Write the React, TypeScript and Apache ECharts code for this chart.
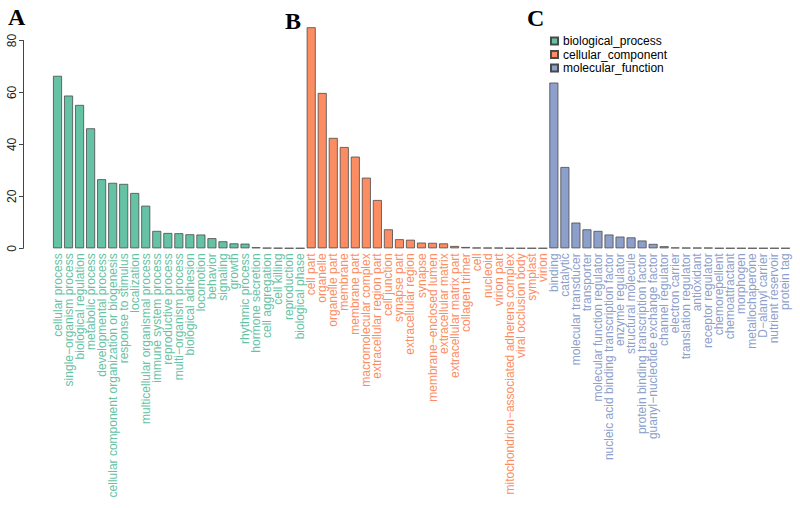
import React, { useEffect, useRef } from "react";
import * as echarts from "echarts";

const bpCategories = [
  "cellular process", "single\u2212organism process", "biological regulation", "metabolic process",
  "developmental process", "cellular component organization or biogenesis", "response to stimulus",
  "localization", "multicellular organismal process", "immune system process", "reproductive process",
  "multi\u2212organism process", "biological adhesion", "locomotion", "behavior", "signaling", "growth",
  "rhythmic process", "hormone secretion", "cell aggregation", "cell killing", "reproduction", "biological phase",
];
const bpValues = [66.4, 58.8, 55.2, 46.2, 26.6, 25.2, 24.8, 21.3, 16.4, 6.7, 5.9, 5.8, 5.4, 5.3, 3.9, 2.7, 1.9, 1.8, 0.4, 0.15, 0.1, 0.04, 0.04];

const ccCategories = [
  "cell part", "organelle", "organelle part", "membrane", "membrane part", "macromolecular complex",
  "extracellular region part", "cell junction", "synapse part", "extracellular region", "synapse",
  "membrane\u2212enclosed lumen", "extracellular matrix", "extracellular matrix part", "collagen trimer", "cell",
  "nucleoid", "virion part", "mitochondrion\u2212associated adherens complex", "viral occlusion body", "symplast", "virion",
];
const ccValues = [85.1, 59.8, 42.5, 39.0, 35.3, 27.2, 18.6, 7.3, 3.5, 3.3, 2.2, 2.1, 1.9, 0.9, 0.5, 0.25, 0.2, 0.2, 0.04, 0.04, 0.04, 0.04];

const mfCategories = [
  "binding", "catalytic", "molecular transducer", "transporter", "molecular function regulator",
  "nucleic acid binding transcription factor", "enzyme regulator", "structural molecule",
  "protein binding transcription factor", "guanyl\u2212nucleotide exchange factor", "channel regulator",
  "electron carrier", "translation regulator", "antioxidant", "receptor regulator", "chemorepellent",
  "chemoattractant", "morphogen", "metallochaperone", "D\u2212alanyl carrier", "nutrient reservoir", "protein tag",
];
const mfValues = [63.8, 31.3, 9.9, 7.3, 6.7, 5.3, 4.5, 4.2, 3.0, 1.7, 0.8, 0.3, 0.2, 0.2, 0.2, 0.04, 0.04, 0.04, 0.04, 0.04, 0.04, 0.04];

const yTicks = [0, 20, 40, 60, 80];

const COLORS = { bp: "#66C2A5", cc: "#FC8D62", mf: "#8DA0CB" };
const SANS = "Liberation Sans";
const SERIF = "Liberation Serif";

export default function App() {
  const ref = useRef<HTMLDivElement>(null);
  useEffect(() => {
    if (!ref.current) return;
    const chart = echarts.init(ref.current, null, { renderer: "svg" });
    const categories = [...bpCategories, ...ccCategories, ...mfCategories];
    const nBP = bpCategories.length;
    const nCC = ccCategories.length;
    const pad = (n: number) => new Array(n).fill(null);
    const bpData = [...bpValues, ...pad(nCC + mfCategories.length)];
    const ccData = [...pad(nBP), ...ccValues, ...pad(mfCategories.length)];
    const mfData = [...pad(nBP + nCC), ...mfValues];
    const labelColor = (_v: any, idx: number) =>
      idx < nBP ? COLORS.bp : idx < nBP + nCC ? COLORS.cc : COLORS.mf;
    const mkSeries = (name: string, data: any[], color: string) => ({
      name,
      type: "bar",
      data,
      barWidth: 9,
      barGap: "-100%",
      clip: false,
      itemStyle: { color, borderColor: "#4a4a4a", borderWidth: 0.8 },
    });
    chart.setOption({
      animation: false,
      textStyle: { fontFamily: SANS },
      grid: { left: 52, right: 9, top: 40.5, bottom: 259.7 },
      legend: {
        orient: "vertical",
        left: 545,
        top: 30,
        icon: "rect",
        itemWidth: 7,
        itemHeight: 7,
        itemGap: 1.5,
        textStyle: { fontSize: 12, color: "#000", lineHeight: 12, fontFamily: SANS },
        data: ["biological_process", "cellular_component", "molecular_function"],
      },
      xAxis: {
        type: "category",
        data: categories,
        axisLine: { show: false },
        axisTick: { show: false },
        axisLabel: {
          interval: 0,
          rotate: 90,
          margin: 5,
          fontSize: 12,
          fontFamily: SANS,
          color: labelColor,
        },
      },
      yAxis: {
        type: "value",
        min: 0,
        max: 80,
        interval: 20,
        offset: 29,
        splitLine: { show: false },
        axisLine: { show: true, lineStyle: { color: "#444", width: 1 } },
        axisTick: { show: true, length: 4, lineStyle: { color: "#444" } },
        axisLabel: {
          rotate: 90,
          fontSize: 12,
          fontFamily: SANS,
          color: "#222",
          margin: 5,
          formatter: (v: number) => (yTicks.includes(v) ? String(v) : ""),
        },
      },
      graphic: [
        { type: "text", left: 8, top: 5, style: { text: "A", fontSize: 24, fontWeight: "bold", fontFamily: SERIF, fill: "#000" } },
        { type: "text", left: 285, top: 9, style: { text: "B", fontSize: 24, fontWeight: "bold", fontFamily: SERIF, fill: "#000" } },
        { type: "text", left: 527, top: 6, style: { text: "C", fontSize: 24, fontWeight: "bold", fontFamily: SERIF, fill: "#000" } },
      ],
      series: [
        mkSeries("biological_process", bpData, COLORS.bp),
        mkSeries("cellular_component", ccData, COLORS.cc),
        mkSeries("molecular_function", mfData, COLORS.mf),
      ],
    });
    return () => chart.dispose();
  }, []);
  return (
    <div
      ref={ref}
      style={{ position: "fixed", left: 0, top: 0, width: 800, height: 508, background: "#fff" }}
    />
  );
}
